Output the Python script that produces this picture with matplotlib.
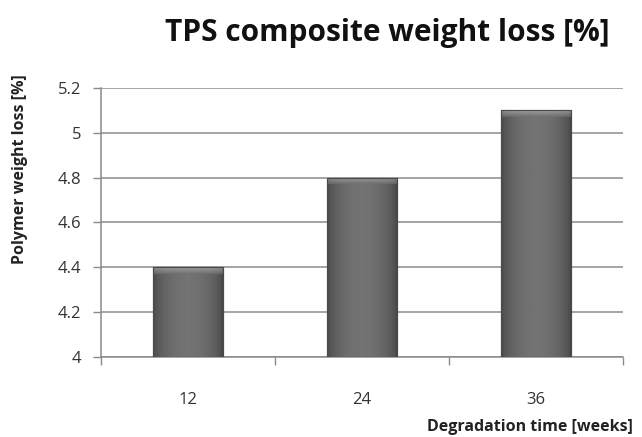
import numpy as np
import matplotlib
matplotlib.use("Agg")
import matplotlib.pyplot as plt

# data
weeks = ["12", "24", "36"]
weight_loss = [4.4, 4.8, 5.1]
y_ticks = [4, 4.2, 4.4, 4.6, 4.8, 5, 5.2]
y_tick_labels = ["4", "4.2", "4.4", "4.6", "4.8", "5", "5.2"]

plt.rcParams['font.family'] = ['Open Sans', 'DejaVu Sans']

fig = plt.figure(figsize=(6.42, 4.37), dpi=100)
ax = fig.add_axes([0.157, 0.183, 0.813, 0.616])

x = np.arange(len(weeks))
bar_w = 0.40
bars = ax.bar(x, [v - 4 for v in weight_loss], bottom=4, width=bar_w,
              color="#6a6a6a", edgecolor="#4a4a4a", linewidth=0.8, zorder=3)

# cylinder like shading on each bar
t = np.linspace(0, 1, 60)
profile = 0.28 + 0.17 * np.sin(np.pi * t) ** 0.6
shade = np.tile(profile, (2, 1))
bevel_h = 0.03
for b in bars:
    x0 = b.get_x()
    x1 = x0 + b.get_width()
    y0 = b.get_y()
    y1 = y0 + b.get_height()
    im = ax.imshow(shade, cmap="gray", vmin=0, vmax=1, aspect="auto",
                   extent=(x0, x1, y0, y1), zorder=4, interpolation="bilinear")
    im.set_clip_path(b)
    bev = np.tile(np.linspace(0.62, 0.44, 20)[:, None], (1, 60)) * (0.85 + 0.15 * np.sin(np.pi * t) ** 0.4)
    im2 = ax.imshow(bev, cmap="gray", vmin=0, vmax=1, aspect="auto",
                    extent=(x0, x1, y1 - bevel_h, y1), origin="upper",
                    zorder=5, interpolation="bilinear")
    im2.set_clip_path(b)
    ax.add_patch(plt.Rectangle((x0, y0), x1 - x0, y1 - y0, fill=False,
                               edgecolor="#4a4a4a", linewidth=0.8, zorder=6))

ax.set_xlim(-0.5, len(weeks) - 0.5)
ax.set_ylim(4, 5.2)
ax.set_yticks(y_ticks)
ax.set_yticklabels(y_tick_labels)
ax.set_xticks(x)
ax.set_xticklabels(weeks)
ax.set_xticks(np.arange(-0.5, len(weeks)), minor=True)
ax.tick_params(axis="x", which="major", length=0, pad=25, labelsize=12, labelcolor="#333333")
ax.tick_params(axis="x", which="minor", length=6, color="#8a8a8a", width=1)
ax.tick_params(axis="y", length=6, color="#8a8a8a", width=1, labelsize=12,
               labelcolor="#333333", pad=8)

ax.yaxis.grid(True, color="#8c8c8c", linewidth=1.1, zorder=0)
ax.set_axisbelow(True)
for s in ["top", "right"]:
    ax.spines[s].set_visible(False)
for s in ["left", "bottom"]:
    ax.spines[s].set_color("#8a8a8a")
    ax.spines[s].set_linewidth(1.1)

fig.text(0.604, 0.925, "TPS composite weight loss [%]", ha="center", va="center",
         fontsize=21.5, fontweight="bold", color="#111111")
fig.text(0.986, 0.022, "Degradation time [weeks]", ha="right", va="center",
         fontsize=11.5, fontweight="bold", color="#222222")
fig.text(0.031, 0.614, "Polymer weight loss [%]", ha="center", va="center",
         rotation=90, fontsize=11.5, fontweight="bold", color="#222222")

fig.savefig("out.png", dpi=100)
